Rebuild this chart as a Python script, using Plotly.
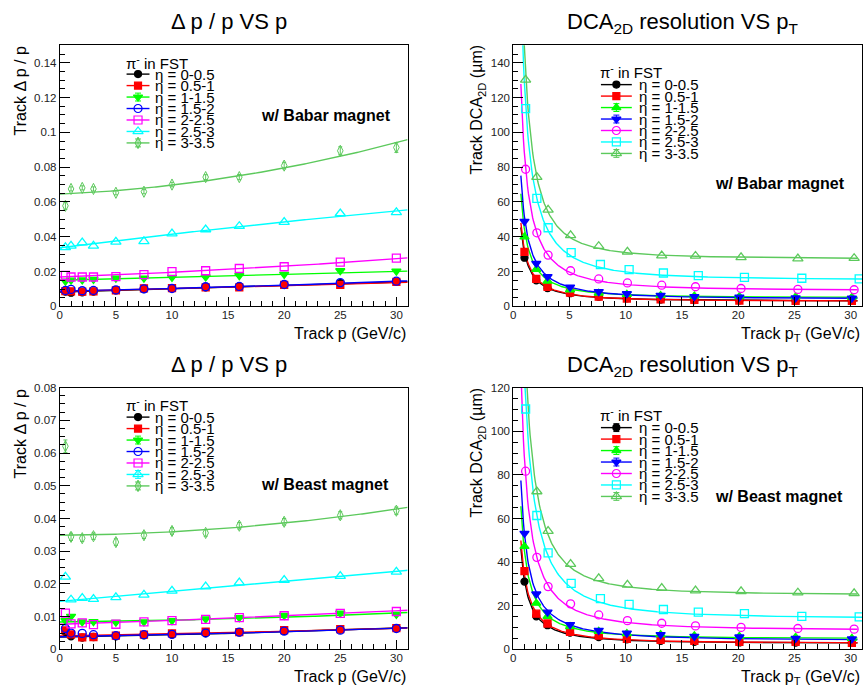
import numpy as np
import plotly.graph_objects as go

W, H = 864, 698
FONT = "Liberation Sans, Arial, Helvetica, sans-serif"

# ---------------- data ----------------
eta_labels = ["η = 0-0.5", "η = 0.5-1", "η = 1-1.5", "η = 1.5-2",
              "η = 2-2.5", "η = 2.5-3", "η = 3-3.5"]
colors = ["#000000", "#ff0000", "#00ff00", "#0000ff", "#ff00ff", "#00ffff", "#5cc95c"]

# Δp/p vs p  (track p, GeV/c)
p_vals = [0.5, 1, 2, 3, 5, 7.5, 10, 13, 16, 20, 25, 30]

dpp_babar = [
    [0.0085, 0.0079, 0.0081, 0.0085, 0.0092, 0.0100, 0.0105, 0.0110, 0.0115, 0.0126, 0.0134, 0.0141],
    [0.0088, 0.0087, 0.0085, 0.0086, 0.0092, 0.0104, 0.0105, 0.0110, 0.0109, 0.0124, 0.0124, 0.0141],
    [0.0145, 0.0151, 0.0152, 0.0155, 0.0162, 0.0163, 0.0167, 0.0169, 0.0177, 0.0184, 0.0205, 0.0203],
    [0.0092, 0.0098, 0.0090, 0.0092, 0.0095, 0.0101, 0.0103, 0.0113, 0.0115, 0.0126, 0.0137, 0.0145],
    [0.0179, 0.0169, 0.0169, 0.0169, 0.0171, 0.0183, 0.0200, 0.0205, 0.0218, 0.0228, 0.0254, 0.0277],
    [0.0339, 0.0348, 0.0367, 0.0348, 0.0371, 0.0374, 0.0418, 0.0442, 0.0461, 0.0484, 0.0534, 0.0540],
    [0.0578, 0.0675, 0.0681, 0.0675, 0.0653, 0.0659, 0.0700, 0.0743, 0.0743, 0.0809, 0.0894, 0.0913],
]
dpp_babar_err_eta3 = [0.0020, 0.0012, 0.0012, 0.0012, 0.0012, 0.0012, 0.0013, 0.0014, 0.0015, 0.0019, 0.0023, 0.0028]
# pol2 fit parameters (c0, c1, c2)
dpp_babar_fit = [
    (0.0082, 1.68e-4, 8.3e-7),
    (0.0086, 1.52e-4, 6.2e-7),
    (0.01505, 1.69e-4, 0.0),
    (0.0088, 1.32e-4, 1.87e-6),
    (0.0169, 2.26e-4, 4.16e-6),
    (0.0337, 8.19e-4, -3.75e-6),
    (0.0645, 2.81e-4, 2.352e-5),
]

dpp_beast = [
    [0.0054, 0.0040, 0.0036, 0.0038, 0.0040, 0.0043, 0.0046, 0.0050, 0.0052, 0.0057, 0.0061, 0.0065],
    [0.0058, 0.0046, 0.0037, 0.0038, 0.0042, 0.0045, 0.0049, 0.0054, 0.0053, 0.0059, 0.0062, 0.0065],
    [0.0088, 0.0101, 0.0084, 0.0085, 0.0083, 0.0084, 0.0088, 0.0093, 0.0097, 0.0104, 0.0111, 0.0107],
    [0.0064, 0.0050, 0.0049, 0.0045, 0.0042, 0.0045, 0.0046, 0.0050, 0.0053, 0.0056, 0.0059, 0.0064],
    [0.0111, 0.0078, 0.0081, 0.0076, 0.0077, 0.0084, 0.0088, 0.0092, 0.0097, 0.0103, 0.0110, 0.0116],
    [0.0222, 0.0152, 0.0157, 0.0154, 0.0159, 0.0167, 0.0179, 0.0192, 0.0204, 0.0212, 0.0224, 0.0237],
    [0.0621, 0.0344, 0.0340, 0.0346, 0.0328, 0.0349, 0.0362, 0.0356, 0.0378, 0.0390, 0.0410, 0.0424],
]
dpp_beast_err_eta3 = [0.0019, 0.0011, 0.0010, 0.0010, 0.0010, 0.0010, 0.0010, 0.0010, 0.0010, 0.0010, 0.0011, 0.0011]
dpp_beast_fit = [
    (0.0038, 6.0e-5, 1.0e-6),
    (0.0041, 6.0e-5, 6.0e-7),
    (0.0084, 3.5e-5, 1.87e-6),
    (0.0039, 5.0e-5, 1.2e-6),
    (0.0077, 1.06e-4, 1.04e-6),
    (0.0147, 3.06e-4, 0.0),
    (0.0349, 2.3e-5, 8.1e-6),
]

# DCA_2D resolution vs pT (GeV/c)
pt_a = [1.0, 2.05, 3.05, 5.05, 7.6, 10.1, 13.1, 16.1, 20.1, 25.1, 30.1]   # eta 0-2
pt_b = [1.1, 2.1, 3.1, 5.1, 7.6, 10.15, 13.2, 16.2, 20.25, 25.3, 30.3]   # eta 2-2.5, 3-3.5
pt_c = [1.1, 2.1, 3.1, 5.15, 7.75, 10.3, 13.35, 16.45, 20.55, 25.65, 30.75]  # eta 2.5-3
dca_pt = [pt_a, pt_a, pt_a, pt_a, pt_b, pt_c, pt_b]

dca_babar = [
    [28.0, 15.0, 10.5, 7.6, 5.5, 4.6, 4.0, 3.7, 3.5, 3.3, 3.2],
    [31.4, 15.8, 11.3, 7.9, 5.6, 4.5, 4.1, 3.8, 3.4, 3.2, 3.2],
    [40.0, 21.3, 14.6, 9.6, 7.6, 6.9, 6.3, 6.0, 5.7, 5.5, 5.3],
    [48.9, 24.7, 17.1, 11.1, 8.5, 7.3, 6.4, 5.6, 5.3, 4.9, 4.7],
    [78.8, 42.3, 29.5, 20.5, 15.8, 13.5, 12.2, 11.3, 10.3, 9.8, 9.6],
    [113.6, 62.1, 45.2, 30.9, 24.1, 21.1, 19.2, 17.7, 16.7, 16.2, 15.8],
    [130.2, 74.3, 55.5, 40.8, 34.6, 31.4, 29.2, 29.0, 28.2, 27.5, 27.7],
]
# fit sqrt(a^2 + (b/pT)^2): (a, b)
dca_babar_fit = [(3.14, 30.8), (3.01, 32.6), (5.1, 43.9), (4.38, 51.0),
                 (9.16, 86.7), (15.2, 126.4), (27.3, 145.0)]

dca_beast = [
    [31.1, 15.2, 11.1, 7.7, 5.7, 4.6, 3.9, 3.5, 3.2, 3.1, 3.0],
    [35.9, 16.4, 11.9, 8.1, 6.3, 4.9, 4.4, 3.9, 3.5, 3.5, 3.0],
    [47.2, 21.2, 15.2, 10.5, 8.3, 7.3, 6.8, 6.3, 6.0, 5.6, 5.1],
    [53.2, 25.4, 17.1, 11.4, 8.7, 7.5, 6.8, 6.0, 5.7, 5.1, 4.8],
    [81.7, 42.2, 28.8, 20.9, 15.8, 13.2, 12.0, 10.8, 10.1, 9.6, 9.3],
    [110.2, 61.4, 44.3, 30.3, 23.3, 20.7, 18.3, 17.1, 16.4, 15.2, 14.9],
    [None, 72.4, 54.2, 39.1, 32.6, 29.6, 28.1, 27.0, 26.6, 26.0, 25.7],
]
dca_beast_fit = [(2.81, 31.4), (2.88, 33.9), (5.0, 44.5), (4.15, 52.6),
                 (8.84, 86.7), (14.2, 125.4), (25.0, 142.7)]

dca_fit_start = 0.68
dca_fit_end = [30.6, 30.6, 30.6, 30.6, 30.6, 31.0, 30.6]

dpp_symbols = ["circle", "square", "triangle-down", "circle-open", "square-open",
               "triangle-up-open", "diamond-tall-open"]
dca_symbols = ["circle", "square", "triangle-up", "triangle-down", "circle-open",
               "square-open", "triangle-up-open"]
sym_size = {"circle": 7, "square": 7, "triangle-down": 8, "triangle-up": 8,
            "circle-open": 8, "square-open": 8, "triangle-up-open": 9,
            "diamond-tall-open": 8}

# ---------------- figure ----------------
fig = go.Figure()

# panel frames in pixels: (left, right, top, bottom)
frames = {
    1: (57, 406, 40, 305.7),
    2: (512, 862, 40, 305.7),
    3: (57, 406, 388.3, 654.7),
    4: (512, 862, 388.3, 654.7),
}


def ax_suffix(k):
    return "" if k == 1 else str(k)


def add_dpp(panel, data, errs, fits):
    xa, ya = "x" + ax_suffix(panel), "y" + ax_suffix(panel)
    pl = np.linspace(0, 31, 200)
    for i in range(7):
        c0, c1, c2 = fits[i]
        fig.add_trace(go.Scatter(x=pl, y=c0 + c1 * pl + c2 * pl ** 2, mode="lines",
                                 line=dict(color=colors[i], width=1.4),
                                 xaxis=xa, yaxis=ya, showlegend=False, hoverinfo="skip"))
    for i in range(7):
        sym = dpp_symbols[i]
        ey = dict(type="data", array=errs, visible=True, color=colors[i],
                  thickness=1, width=2) if i == 6 else None
        fig.add_trace(go.Scatter(x=p_vals, y=data[i], mode="markers",
                                 marker=dict(symbol=sym, size=sym_size[sym], color=colors[i],
                                             line=dict(color=colors[i],
                                                       width=1.0 if i == 6 else 1.3)),
                                 error_y=ey, xaxis=xa, yaxis=ya, showlegend=False))


def add_dca(panel, data, fits):
    xa, ya = "x" + ax_suffix(panel), "y" + ax_suffix(panel)
    for i in range(7):
        a, b = fits[i]
        pl = np.linspace(dca_fit_start, dca_fit_end[i], 400)
        fig.add_trace(go.Scatter(x=pl, y=np.sqrt(a ** 2 + (b / pl) ** 2), mode="lines",
                                 line=dict(color=colors[i], width=1.4),
                                 xaxis=xa, yaxis=ya, showlegend=False, hoverinfo="skip"))
    for i in range(7):
        sym = dca_symbols[i]
        fig.add_trace(go.Scatter(x=dca_pt[i], y=data[i], mode="markers",
                                 marker=dict(symbol=sym, size=sym_size[sym], color=colors[i],
                                             line=dict(color=colors[i], width=1.3)),
                                 xaxis=xa, yaxis=ya, showlegend=False))


add_dpp(1, dpp_babar, dpp_babar_err_eta3, dpp_babar_fit)
add_dca(2, dca_babar, dca_babar_fit)
add_dpp(3, dpp_beast, dpp_beast_err_eta3, dpp_beast_fit)
add_dca(4, dca_beast, dca_beast_fit)

annotations = []


def px(x):
    return x / W


def py(y):
    return 1 - y / H


def add_text(x, y, text, size, xanchor="center", yanchor="middle", angle=0, bold=False):
    annotations.append(dict(x=px(x), y=py(y), xref="paper", yref="paper", text=text,
                            showarrow=False, xanchor=xanchor, yanchor=yanchor, textangle=angle,
                            font=dict(family=FONT, size=size, color="black",
                                      weight="bold" if bold else "normal")))


# legends (glyphs drawn on an invisible full-page overlay axis in pixel units)
def add_legend(tx, ty, lx0, lx1, textx, y0, dy, symbols, errflags):
    add_text(tx, ty, "π<sup>-</sup> in FST", 15, xanchor="left")
    for i in range(7):
        y = y0 + i * dy
        fig.add_trace(go.Scatter(x=[lx0, lx1], y=[y, y], mode="lines",
                                 line=dict(color=colors[i], width=1.4),
                                 xaxis="x5", yaxis="y5", showlegend=False, hoverinfo="skip"))
        sym = symbols[i]
        ey = dict(type="constant", value=4, visible=True, color=colors[i], thickness=1,
                  width=3) if errflags[i] else None
        fig.add_trace(go.Scatter(x=[(lx0 + lx1) / 2], y=[y], mode="markers",
                                 marker=dict(symbol=sym, size=sym_size[sym], color=colors[i],
                                             line=dict(color=colors[i], width=1.2)),
                                 error_y=ey, xaxis="x5", yaxis="y5", showlegend=False,
                                 hoverinfo="skip"))
        add_text(textx, y, eta_labels[i], 15, xanchor="left")


add_legend(121, 57, 124, 147, 151, 69.3, 11.67, dpp_symbols, [0, 0, 1, 0, 0, 0, 1])
add_legend(597, 66.7, 600, 631, 636, 80, 11.67, dca_symbols, [0, 0, 1, 1, 0, 0, 1])
add_legend(121, 405.7, 124, 147, 151, 418.3, 11.67, dpp_symbols, [0, 0, 1, 0, 0, 1, 1])
add_legend(597, 415.7, 600, 631, 636, 429, 11.67, dca_symbols, [1, 0, 1, 1, 0, 0, 1])

# titles
add_text(227, 16, "Δ p / p VS p", 22)
add_text(682, 17, "DCA<sub>2D</sub> resolution VS p<sub>T</sub>", 22)
add_text(227, 365, "Δ p / p VS p", 22)
add_text(682, 366, "DCA<sub>2D</sub> resolution VS p<sub>T</sub>", 22)

# axis titles
add_text(406, 333, "Track p (GeV/c)", 16, xanchor="right")
add_text(862, 334, "Track p<sub>T</sub> (GeV/c)", 16, xanchor="right")
add_text(406, 682, "Track p (GeV/c)", 16, xanchor="right")
add_text(862, 683, "Track p<sub>T</sub> (GeV/c)", 16, xanchor="right")
add_text(18, 86, "Track Δ p / p", 16, angle=-90)
add_text(476, 105, "Track DCA<sub>2D</sub> (µm)", 16, angle=-90)
add_text(18, 435, "Track Δ p / p", 16, angle=-90)
add_text(476, 454, "Track DCA<sub>2D</sub> (µm)", 16, angle=-90)

# magnet labels
add_text(324, 111, "w/ Babar magnet", 16, bold=True)
add_text(780, 181, "w/ Babar magnet", 16, bold=True)
add_text(323, 487, "w/ Beast magnet", 16, bold=True)
add_text(779, 499, "w/ Beast magnet", 16, bold=True)

axis_common = dict(showline=True, linecolor="black", linewidth=1, mirror=True,
                   ticks="inside", tickcolor="black", tickwidth=1, showgrid=False,
                   zeroline=False, tickfont=dict(family=FONT, size=11.5, color="#222"))

layout_axes = {}
yspecs = {1: (0.15, 0.02, 0.005), 2: (150, 20, 5), 3: (0.08, 0.01, 0.0025), 4: (120, 20, 5)}
for k, (l, r, t, b) in frames.items():
    s = ax_suffix(k)
    ymax, dt, mdt = yspecs[k]
    layout_axes["xaxis" + s] = dict(axis_common, domain=[px(l), px(r)], range=[0, 31],
                                    tick0=0, dtick=5, ticklen=9, anchor="y" + s,
                                    ticklabelstandoff=-2,
                                    minor=dict(ticks="inside", ticklen=5, dtick=1,
                                               tickcolor="black", showgrid=False))
    layout_axes["yaxis" + s] = dict(axis_common, domain=[py(b), py(t)], range=[0, ymax],
                                    tick0=0, dtick=dt, ticklen=10, anchor="x" + s,
                                    minor=dict(ticks="inside", ticklen=5, dtick=mdt,
                                               tickcolor="black", showgrid=False))

layout_axes["xaxis5"] = dict(domain=[0, 1], range=[0, W], visible=False, anchor="y5",
                             fixedrange=True)
layout_axes["yaxis5"] = dict(domain=[0, 1], range=[H, 0], visible=False, anchor="x5",
                             fixedrange=True)

fig.update_layout(
    width=W, height=H, margin=dict(l=0, r=0, t=0, b=0),
    paper_bgcolor="white", plot_bgcolor="rgba(0,0,0,0)",
    showlegend=False, annotations=annotations,
    font=dict(family=FONT, color="black"),
    **layout_axes,
)

fig.write_html("out.html", config={"displayModeBar": False, "responsive": False},
               post_script="document.body.style.margin='0';document.body.style.overflow='hidden';")
